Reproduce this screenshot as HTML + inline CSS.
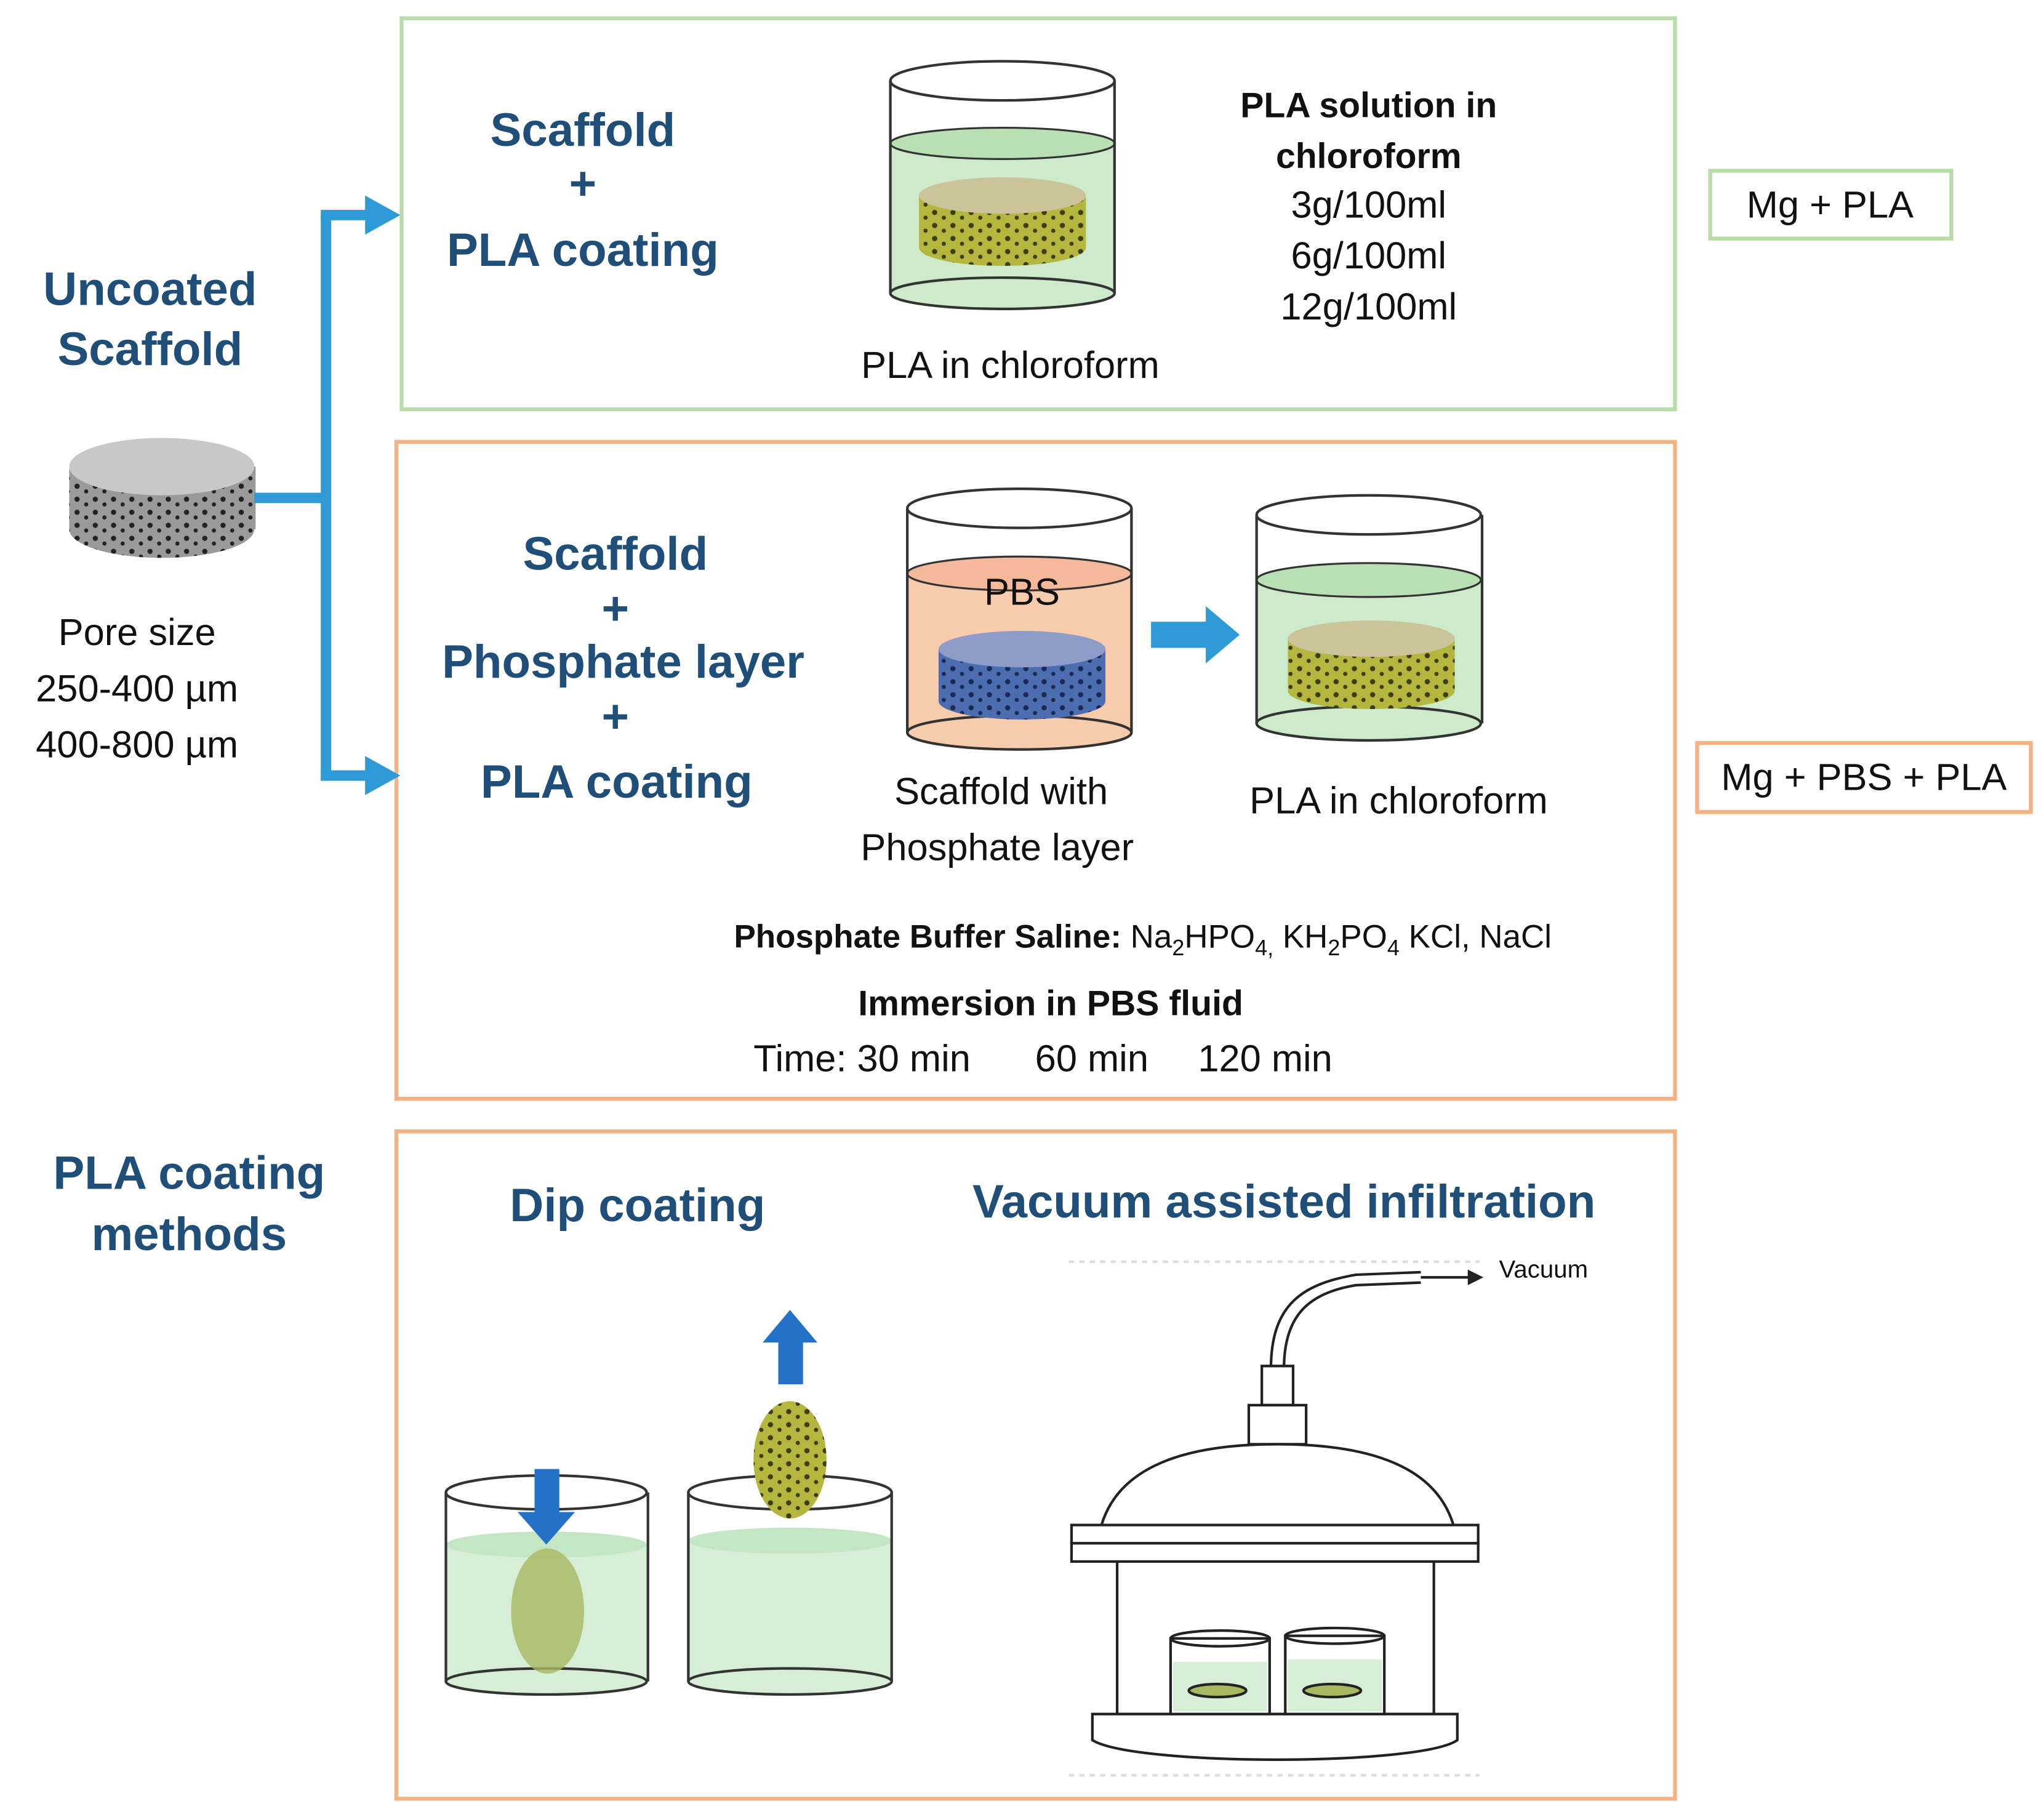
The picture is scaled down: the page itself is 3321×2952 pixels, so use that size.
<!DOCTYPE html>
<html><head><meta charset="utf-8"><style>
html,body{margin:0;padding:0;background:#fff;}
svg{display:block;}
text{font-family:"Liberation Sans",sans-serif;}
.h{fill:#1f4e79;font-weight:bold;font-size:36px;text-anchor:middle;}
.t{fill:#111;font-size:29px;text-anchor:middle;}
.b{fill:#111;font-size:27px;font-weight:bold;text-anchor:middle;}
</style></head><body>
<svg width="3321" height="2952" viewBox="0 0 1568 1394" xmlns="http://www.w3.org/2000/svg">
<defs>
<pattern id="por" width="14" height="10" patternUnits="userSpaceOnUse">
<rect width="14" height="10" fill="#b5b63e"/><circle cx="3" cy="3" r="2" fill="#3d3d15"/><circle cx="10" cy="7" r="1.6" fill="#3d3d15"/>
</pattern>
<pattern id="porg" width="14" height="10" patternUnits="userSpaceOnUse">
<rect width="14" height="10" fill="#9a9a9a"/><circle cx="3" cy="3" r="2" fill="#222"/><circle cx="10" cy="7" r="1.6" fill="#222"/>
</pattern>
<pattern id="porb" width="14" height="10" patternUnits="userSpaceOnUse">
<rect width="14" height="10" fill="#4c6db0"/><circle cx="3" cy="3" r="2" fill="#1a2a55"/><circle cx="10" cy="7" r="1.6" fill="#1a2a55"/>
</pattern>
</defs>
<rect x="308" y="14" width="977" height="300" fill="none" stroke="#b7dca8" stroke-width="3"/>
<rect x="304" y="339" width="981" height="504" fill="none" stroke="#f4b183" stroke-width="3"/>
<rect x="304" y="868" width="981" height="512" fill="none" stroke="#f4b183" stroke-width="3"/>
<rect x="1312" y="131" width="185" height="52" fill="none" stroke="#b7dca8" stroke-width="3"/>
<text class="t" x="1404" y="167" font-size="26">Mg + PLA</text>
<rect x="1302" y="570" width="256" height="53" fill="none" stroke="#f4b183" stroke-width="3"/>
<text class="t" x="1430" y="606" font-size="26">Mg + PBS + PLA</text>
<text class="h" x="115" y="234">Uncoated</text>
<text class="h" x="115" y="280">Scaffold</text>
<rect x="53" y="358" width="143" height="48" fill="url(#porg)"/>
<ellipse cx="124" cy="406" rx="71" ry="22" fill="url(#porg)"/>
<ellipse cx="124" cy="358" rx="71" ry="22" fill="#c8c8c8"/>
<text class="t" x="105" y="495">Pore size</text>
<text class="t" x="105" y="538">250-400 µm</text>
<text class="t" x="105" y="581">400-800 µm</text>
<g stroke="#2e9bd6" stroke-width="8" fill="none">
<line x1="195" y1="382" x2="252" y2="382"/>
<line x1="250" y1="165" x2="250" y2="599"/>
<line x1="246" y1="165" x2="282" y2="165"/>
<line x1="246" y1="595" x2="282" y2="595"/>
</g>
<polygon points="280,150 307,165 280,180" fill="#2e9bd6"/>
<polygon points="280,580 307,595 280,610" fill="#2e9bd6"/>
<text class="h" x="447" y="112">Scaffold</text>
<text class="h" x="447" y="153">+</text>
<text class="h" x="447" y="204">PLA coating</text>
<rect x="683" y="110" width="172" height="115" fill="#cdeacb"/>
<ellipse cx="769" cy="225" rx="86" ry="12" fill="#cdeacb" stroke="#333" stroke-width="2"/>
<ellipse cx="769" cy="110" rx="86" ry="12" fill="#b9e0b5" stroke="#333" stroke-width="1.5"/>
<rect x="705" y="150" width="128" height="40" fill="url(#por)"/>
<ellipse cx="769" cy="190" rx="64" ry="14" fill="url(#por)"/>
<ellipse cx="769" cy="150" rx="64" ry="14" fill="#c9c49a"/>
<line x1="683" y1="62" x2="683" y2="225" stroke="#333" stroke-width="2"/>
<line x1="855" y1="62" x2="855" y2="225" stroke="#333" stroke-width="2"/>
<ellipse cx="769" cy="62" rx="86" ry="15" fill="none" stroke="#333" stroke-width="2"/>
<text class="t" x="775" y="290">PLA in chloroform</text>
<text class="b" x="1050" y="90">PLA solution in</text>
<text class="b" x="1050" y="129">chloroform</text>
<text class="t" x="1050" y="167" font-size="27">3g/100ml</text>
<text class="t" x="1050" y="206" font-size="27">6g/100ml</text>
<text class="t" x="1050" y="245" font-size="27">12g/100ml</text>
<text class="h" x="472" y="437">Scaffold</text>
<text class="h" x="472" y="479">+</text>
<text class="h" x="478" y="520">Phosphate layer</text>
<text class="h" x="472" y="562">+</text>
<text class="h" x="473" y="612">PLA coating</text>
<rect x="696" y="440" width="172" height="122" fill="#f8cbad"/>
<ellipse cx="782" cy="562" rx="86" ry="13" fill="#f8cbad" stroke="#333" stroke-width="2"/>
<ellipse cx="782" cy="440" rx="86" ry="13" fill="#f4b99a" stroke="#333" stroke-width="1.5"/>
<rect x="720" y="498" width="128" height="40" fill="url(#porb)"/>
<ellipse cx="784" cy="538" rx="64" ry="14" fill="url(#porb)"/>
<ellipse cx="784" cy="498" rx="64" ry="14" fill="#8e9cc9"/>
<line x1="696" y1="390" x2="696" y2="562" stroke="#333" stroke-width="2"/>
<line x1="868" y1="390" x2="868" y2="562" stroke="#333" stroke-width="2"/>
<ellipse cx="782" cy="390" rx="86" ry="15" fill="none" stroke="#333" stroke-width="2"/>
<text class="t" x="784" y="464" font-size="27">PBS</text>
<polygon points="883,477 925,477 925,465 951,487 925,509 925,497 883,497" fill="#2e9bd6"/>
<rect x="964" y="445" width="173" height="110" fill="#cdeacb"/>
<ellipse cx="1050" cy="555" rx="86" ry="13" fill="#cdeacb" stroke="#333" stroke-width="2"/>
<ellipse cx="1050" cy="445" rx="86" ry="13" fill="#b9e0b5" stroke="#333" stroke-width="1.5"/>
<rect x="988" y="490" width="128" height="40" fill="url(#por)"/>
<ellipse cx="1052" cy="530" rx="64" ry="14" fill="url(#por)"/>
<ellipse cx="1052" cy="490" rx="64" ry="14" fill="#c9c49a"/>
<line x1="964" y1="395" x2="964" y2="555" stroke="#333" stroke-width="2"/>
<line x1="1137" y1="395" x2="1137" y2="555" stroke="#333" stroke-width="2"/>
<ellipse cx="1050" cy="395" rx="86" ry="15" fill="none" stroke="#333" stroke-width="2"/>
<text class="t" x="768" y="617">Scaffold with</text>
<text class="t" x="765" y="660">Phosphate layer</text>
<text class="t" x="1073" y="624">PLA in chloroform</text>
<text x="563" y="727" font-size="25" fill="#111"><tspan font-weight="bold">Phosphate Buffer Saline:</tspan> Na<tspan font-size="17" dy="6">2</tspan><tspan dy="-6">HPO</tspan><tspan font-size="17" dy="6">4,</tspan><tspan dy="-6"> KH</tspan><tspan font-size="17" dy="6">2</tspan><tspan dy="-6">PO</tspan><tspan font-size="17" dy="6">4</tspan><tspan dy="-6"> KCl, NaCl</tspan></text>
<text class="b" x="806" y="779" font-size="28">Immersion in PBS fluid</text>
<text x="578" y="822" font-size="29" fill="#111">Time: 30 min<tspan x="794">60 min</tspan><tspan x="919">120 min</tspan></text>
<text class="h" x="145" y="912">PLA coating</text>
<text class="h" x="145" y="959">methods</text>
<text class="h" x="489" y="937">Dip coating</text>
<text class="h" x="985" y="934">Vacuum assisted infiltration</text>
<rect x="342" y="1185" width="155" height="105" fill="#d5eed5"/>
<ellipse cx="419" cy="1290" rx="77" ry="10" fill="#d5eed5" stroke="#333" stroke-width="2"/>
<ellipse cx="419" cy="1185" rx="77" ry="10" fill="#c5e6c5"/>
<ellipse cx="420" cy="1236" rx="28" ry="48" fill="#a7b860" opacity="0.8"/>
<line x1="342" y1="1145" x2="342" y2="1290" stroke="#333" stroke-width="2"/>
<line x1="497" y1="1145" x2="497" y2="1290" stroke="#333" stroke-width="2"/>
<ellipse cx="419" cy="1145" rx="77" ry="13" fill="none" stroke="#333" stroke-width="2"/>
<polygon points="410,1127 429,1127 429,1160 441,1160 419,1185 397,1160 410,1160" fill="#2472c8"/>
<rect x="528" y="1182" width="156" height="108" fill="#d5eed5"/>
<ellipse cx="606" cy="1290" rx="78" ry="10" fill="#d5eed5" stroke="#333" stroke-width="2"/>
<ellipse cx="606" cy="1182" rx="78" ry="10" fill="#c5e6c5"/>
<line x1="528" y1="1145" x2="528" y2="1290" stroke="#333" stroke-width="2"/>
<line x1="684" y1="1145" x2="684" y2="1290" stroke="#333" stroke-width="2"/>
<ellipse cx="606" cy="1145" rx="78" ry="13" fill="none" stroke="#333" stroke-width="2"/>
<ellipse cx="606" cy="1120" rx="28" ry="45" fill="url(#por)"/>
<polygon points="597,1062 616,1062 616,1030 627,1030 606,1005 585,1030 597,1030" fill="#2472c8"/>
<g stroke="#222" stroke-width="2" fill="none">
<line x1="820" y1="968" x2="1135" y2="968" stroke="#ddd" stroke-dasharray="4,4"/>
<line x1="820" y1="1362" x2="1135" y2="1362" stroke="#ddd" stroke-dasharray="4,4"/>
<path d="M975 1050 C975 1000 1000 985 1040 978 L1090 976"/>
<path d="M985 1050 C985 1008 1005 992 1040 986 L1090 984"/>
<line x1="1090" y1="980" x2="1128" y2="980"/>
<rect x="968" y="1048" width="24" height="30" fill="#fff"/>
<path d="M958 1078 L1002 1078 L1002 1108 L958 1108 Z" fill="#fff"/>
<path d="M845 1170 C860 1120 920 1108 980 1108 C1040 1108 1100 1120 1115 1170 Z" fill="#fff"/>
<rect x="822" y="1170" width="312" height="14" fill="#fff"/>
<rect x="822" y="1184" width="312" height="14" fill="#fff"/>
<path d="M857 1198 L857 1315 L1100 1315 L1100 1198"/>
<path d="M838 1315 L1118 1315 L1118 1335 C1090 1355 870 1355 838 1335 Z" fill="#fff"/>
<rect x="898" y="1257" width="76" height="58" fill="#fff"/>
<rect x="900" y="1275" width="72" height="38" fill="#d5eed5" stroke="none"/>
<ellipse cx="936" cy="1257" rx="38" ry="6"/>
<ellipse cx="934" cy="1297" rx="22" ry="5" fill="#a7b860"/>
<rect x="986" y="1255" width="76" height="60" fill="#fff"/>
<rect x="988" y="1273" width="72" height="40" fill="#d5eed5" stroke="none"/>
<ellipse cx="1024" cy="1255" rx="38" ry="6"/>
<ellipse cx="1022" cy="1297" rx="22" ry="5" fill="#a7b860"/>
</g>
<polygon points="1126,974 1138,980 1126,986" fill="#222"/>
<text x="1150" y="980" font-size="19" fill="#111">Vacuum</text>
</svg>
</body></html>
